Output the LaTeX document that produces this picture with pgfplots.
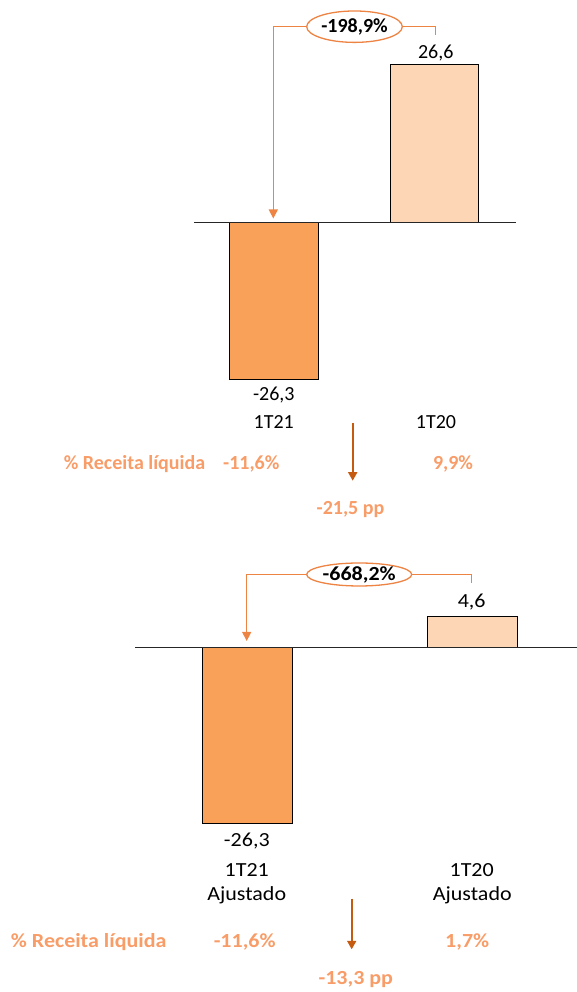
\documentclass[border=0pt]{standalone}
\usepackage{fontspec}
\setmainfont{Carlito}
\usepackage{graphicx}
\usepackage{pgfplots}
\pgfplotsset{compat=1.18}
\usetikzlibrary{arrows.meta}
\definecolor{barA}{HTML}{F9A059}
\definecolor{barB}{HTML}{FCD6B5}
\definecolor{brk}{HTML}{EE8444}
\definecolor{pparrow}{HTML}{C55A11}
\definecolor{pct}{HTML}{F89C68}
\definecolor{axl}{HTML}{262626}
\newcommand\tf{\fontsize{20}{24}\selectfont}
\newcommand\tfb{\fontsize{20}{24}\selectfont\bfseries}
\newcommand\bx[1]{\scalebox{1.1}[1]{#1}}
\begin{document}
\begin{tikzpicture}
\path[use as bounding box] (0,0) rectangle (577pt,992pt);
% ---------- top panel ----------
\begin{axis}[at={(194pt,590.65pt)}, anchor=south west, scale only axis,
  width=322pt, height=357.3pt, xmin=-0.4984, xmax=1.5078, ymin=-30, ymax=30,
  axis lines=none, clip=false]
\addplot[ybar, bar width=88.5pt, bar shift=0pt, fill=barA, draw=black, line width=1pt] coordinates {(0,-26.3)};
\addplot[ybar, bar width=88.5pt, bar shift=0pt, fill=barB, draw=black, line width=1pt] coordinates {(1,26.6)};
\draw[axl, line width=1.3pt] (axis cs:-0.4984,0) -- (axis cs:1.5078,0);
\end{axis}
% ---------- bottom panel ----------
\begin{axis}[at={(135pt,143.9pt)}, anchor=south west, scale only axis,
  width=442pt, height=400.8pt, xmin=-0.4998, xmax=1.4673, ymin=-30, ymax=30,
  axis lines=none, clip=false]
\addplot[ybar, bar width=90pt, bar shift=0pt, fill=barA, draw=black, line width=1pt] coordinates {(0,-26.3)};
\addplot[ybar, bar width=90pt, bar shift=0pt, fill=barB, draw=black, line width=1pt] coordinates {(1,4.6)};
\draw[axl, line width=1.3pt] (axis cs:-0.4998,0) -- (axis cs:1.4673,0);
\end{axis}
% ---------- annotations (pixel coordinates, y downward) ----------
\begin{scope}[x=1pt,y=-1pt,yshift=992pt]
\tikzset{t/.style={anchor=base, inner sep=0pt, font=\tf},
         tb/.style={anchor=base, inner sep=0pt, font=\tfb},
         p/.style={anchor=base, inner sep=0pt, font=\tfb, text=pct}}
% top bracket
\draw[brk, line width=1.3pt, -{Triangle[width=9pt,length=9pt]}] (306.7,26.7) -- (273.3,26.7) -- (273.3,218.5);
\draw[brk, line width=1.3pt] (402.3,26.7) -- (435.7,26.7) -- (435.7,35);
\draw[brk, line width=1.3pt, fill=white] (354.5,26.7) ellipse [x radius=47.8pt, y radius=15.7pt];
\node[tb] at (354.5,32.6) {-198,9\%};
\node[t] at (435.7,58.3) {26,6};
\node[t] at (273.8,401) {-26,3};
\node[t] at (273.8,429) {1T21};
\node[t] at (436,429) {1T20};
\node[p] at (134.5,470) {\% Receita líquida};
\node[p] at (251.3,470) {-11,6\%};
\node[p] at (453,470) {9,9\%};
\draw[pparrow, line width=1.8pt, -{Triangle[width=9pt,length=8.5pt]}] (352.7,423) -- (352.7,480.7);
\node[p] at (350.5,514.5) {-21,5 pp};
% bottom bracket
\draw[brk, line width=1.3pt, -{Triangle[width=9pt,length=9pt]}] (306.7,574.5) -- (246.7,574.5) -- (246.7,641);
\draw[brk, line width=1.3pt] (411.7,574.5) -- (471.7,574.5) -- (471.7,583);
\draw[brk, line width=1.3pt, fill=white] (359.2,574.5) ellipse [x radius=52.5pt, y radius=11.5pt];
\node[tb] at (359.2,580.4) {\bx{-668,2\%}};
\node[t] at (471.7,608) {\bx{4,6}};
\node[t] at (246.8,846.3) {\bx{-26,3}};
\node[t] at (246.8,877) {\bx{1T21}};
\node[t] at (246.8,900.5) {\bx{Ajustado}};
\node[t] at (471.7,877) {\bx{1T20}};
\node[t] at (472.3,900.5) {\bx{Ajustado}};
\node[p] at (88.7,947.3) {\bx{\% Receita líquida}};
\node[p] at (244.7,947.3) {\bx{-11,6\%}};
\node[p] at (467.2,947.3) {\bx{1,7\%}};
\draw[pparrow, line width=1.8pt, -{Triangle[width=9pt,length=8.5pt]}] (351.7,898.7) -- (351.7,949.3);
\node[p] at (355.8,985) {\bx{-13,3 pp}};
\end{scope}
\end{tikzpicture}
\end{document}
